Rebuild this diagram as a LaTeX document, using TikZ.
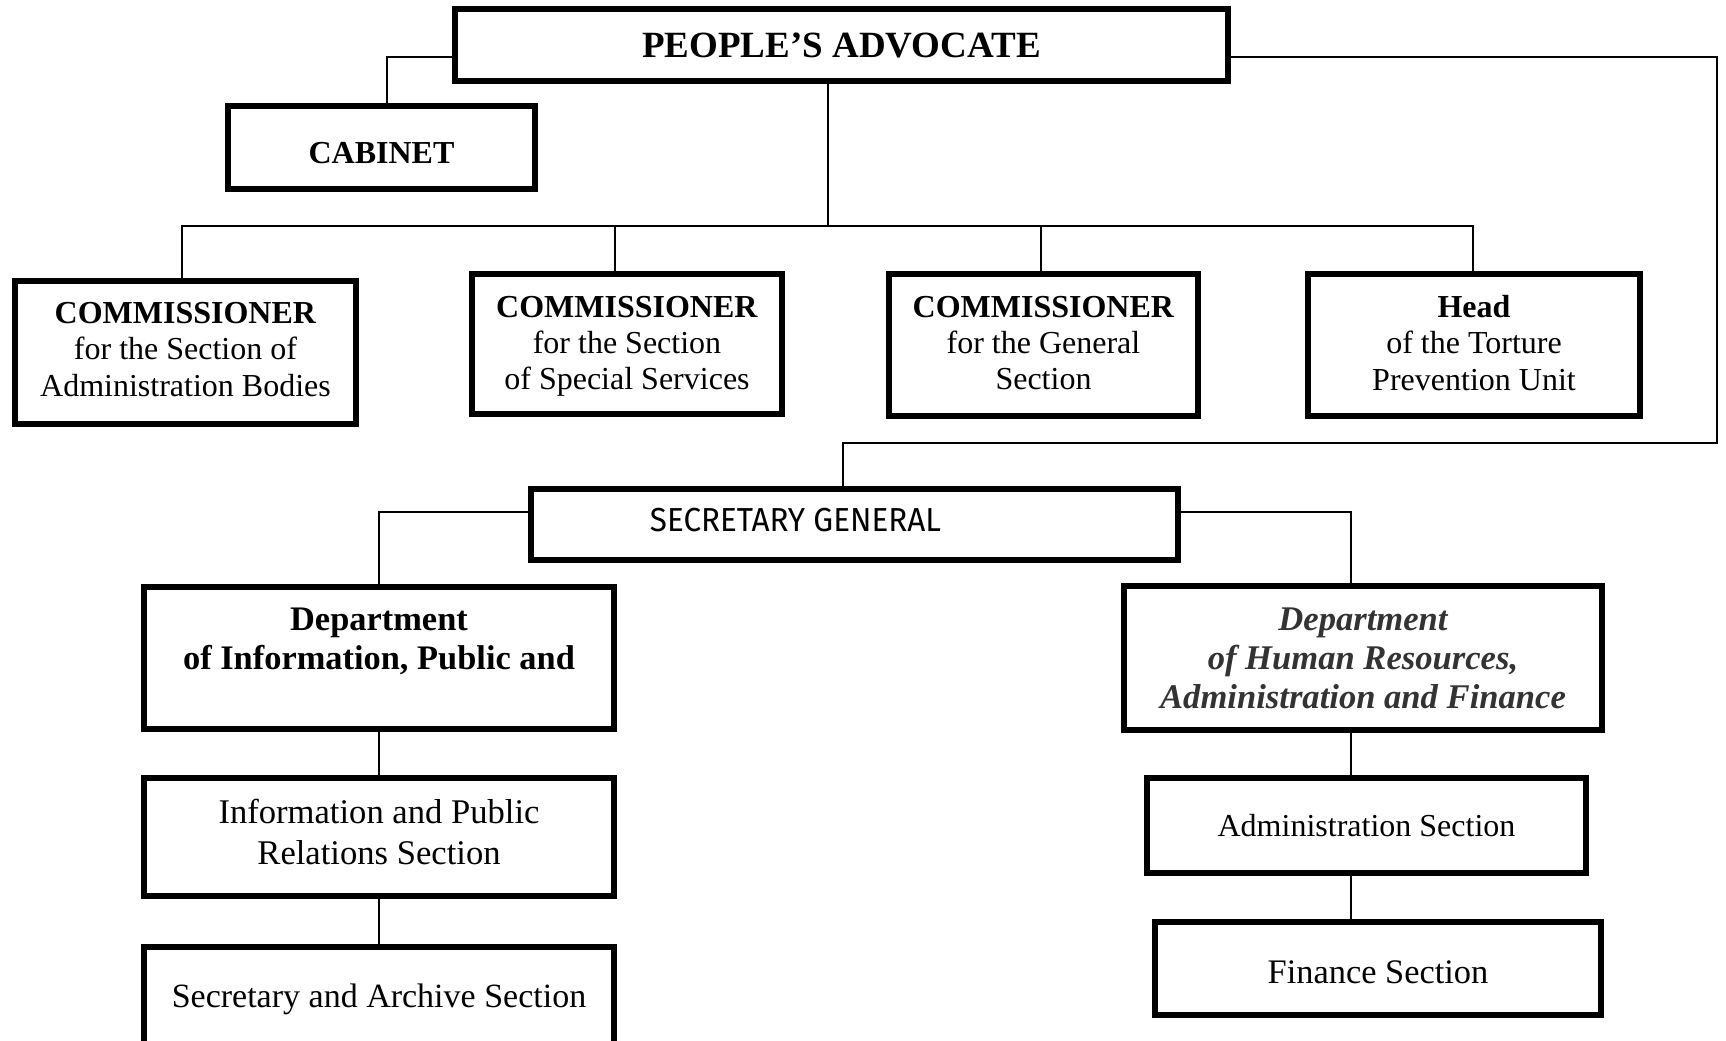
\documentclass[tikz,border=0pt]{standalone}
\usepackage{fontspec}
\usepackage{graphicx}
\setmainfont{Liberation Serif}
\newfontfamily\sgfont{Fira Sans}
\usetikzlibrary{calc}
\newcommand\lowpad[1]{\rule[-#1]{0pt}{#1}}
\begin{document}
\begin{tikzpicture}[x=0.5pt,y=-0.5pt,
  box/.style={draw, line width=3pt, fill=white, inner sep=0pt, align=center,
    font=\fontsize{16}{18.2}\selectfont},
  link/.style={line width=0.9pt}]
\clip (0,0) rectangle (1726,1040);
\fill[white] (0,0) rectangle (1726,1040);

\node[box, minimum width=386.5pt, minimum height=36pt,
  font=\bfseries\fontsize{18.5}{22}\selectfont] (pa) at (841.5,45) {PEOPLE'S ADVOCATE};
\node[box, minimum width=153.5pt, minimum height=41.5pt, text height=16.1pt, text depth=0pt,
  font=\bfseries\fontsize{16}{18.2}\selectfont] (cab) at (381.5,147.5) {CABINET};

\node[box, minimum width=170.5pt, minimum height=71.5pt] (c1) at (185.5,352.5)
  {\textbf{COMMISSIONER}\\for the Section of\\Administration Bodies\lowpad{3.3pt}};
\node[box, minimum width=155pt, minimum height=70pt] (c2) at (627,344)
  {\rule{0pt}{12.8pt}\textbf{COMMISSIONER}\\for the Section\\of Special Services};
\node[box, minimum width=154.5pt, minimum height=71pt] (c3) at (1043.5,345)
  {\textbf{COMMISSIONER}\\for the General\\Section\lowpad{2.2pt}};
\node[box, minimum width=166pt, minimum height=71pt] (head) at (1474,345)
  {\textbf{Head}\\of the Torture\\Prevention Unit\lowpad{2.2pt}};

\node[box, minimum width=323.5pt, minimum height=35.5pt,
  label={[xshift=-29.5pt,yshift=2.25pt]center:\resizebox{145.5pt}{11.65pt}{\sgfont SECRETARY GENERAL}}]
  (sg) at (854.5,524.5) {};

\node[box, minimum width=235pt, minimum height=71pt,
  font=\bfseries\fontsize{17.2}{19.3}\selectfont] (dinfo) at (379,658)
  {Department\\of Information, Public and\\\rule{0pt}{1pt}};
\node[box, minimum width=235pt, minimum height=59pt,
  font=\fontsize{17.3}{20.4}\selectfont] (infopr) at (379,837)
  {Information and Public\\Relations Section\lowpad{5.5pt}};
\node[box, minimum width=235pt, minimum height=57pt, text height=11.6pt, text depth=8.1pt,
  font=\fontsize{17}{20}\selectfont] (secarch) at (379,1004)
  {Secretary and Archive Section};

\node[box, minimum width=239pt, minimum height=72pt, text=black!80,
  font=\bfseries\itshape\fontsize{17.3}{19.5}\selectfont] (dhr) at (1363,658)
  {Department\\of Human Resources,\\Administration and Finance};
\node[box, minimum width=219.5pt, minimum height=47.5pt] (admin) at (1366.5,825.5)
  {Administration Section};
\node[box, minimum width=223pt, minimum height=46.5pt, text height=14.7pt, text depth=0pt,
  font=\fontsize{17.2}{20}\selectfont] (fin) at (1378,968.5)
  {Finance Section};

\coordinate (bus) at (828,226);
\coordinate (loop) at (1717,443);
\draw[link] (pa.south -| bus) -- (bus);
\draw[link] ([xshift=-1.75pt]c1.north) |- (bus) -| ([xshift=-0.5pt]head.north);
\draw[link] ([xshift=-6pt]c2.north) -- ([xshift=-6pt]c2.north |- bus);
\draw[link] ([xshift=-1.25pt]c3.north) -- ([xshift=-1.25pt]c3.north |- bus);
\draw[link] ([yshift=-6pt]pa.west) -| ([xshift=2.75pt]cab.north);
\draw[link] ([yshift=-6pt]pa.east) -| (loop) -| ([xshift=-5.75pt]sg.north);
\draw[link] ([yshift=6.25pt]sg.west) -| (dinfo.north);
\draw[link] ([yshift=6.25pt]sg.east) -| ([xshift=-6pt]dhr.north);
\draw[link] (dinfo.south) -- (infopr.north);
\draw[link] (infopr.south) -- (secarch.north);
\draw[link] ([xshift=-6pt]dhr.south) -- ([xshift=-6pt]dhr.south |- admin.north);
\draw[link] ([xshift=-6pt]dhr.south |- admin.south) -- ([xshift=-6pt]dhr.south |- fin.north);
\end{tikzpicture}
\end{document}
